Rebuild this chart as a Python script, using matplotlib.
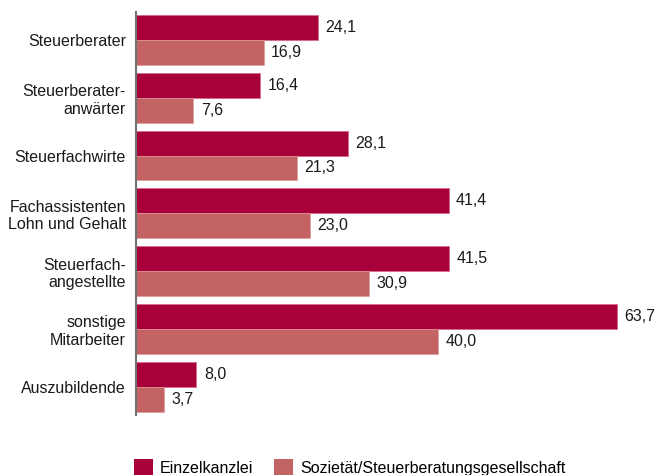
import matplotlib
matplotlib.use("Agg")
import matplotlib.pyplot as plt
from matplotlib.patches import Patch

plt.rcParams['font.family'] = ['Liberation Sans', 'DejaVu Sans']

categories = ["Steuerberater", "Steuerberater-\nanwärter", "Steuerfachwirte",
              "Fachassistenten\nLohn und Gehalt", "Steuerfach-\nangestellte",
              "sonstige\nMitarbeiter", "Auszubildende"]
einzel = [24.1, 16.4, 28.1, 41.4, 41.5, 63.7, 8.0]
sozietaet = [16.9, 7.6, 21.3, 23.0, 30.9, 40.0, 3.7]
series_names = ["Einzelkanzlei", "Sozietät/Steuerberatungsgesellschaft"]

c_dark = "#A8003A"
c_light = "#C46363"

fig = plt.figure(figsize=(6.65, 4.75), dpi=100)
ax = fig.add_axes([0.2045, 0.126, 0.78, 0.849])

h = 0.43
ys = list(range(len(categories)))
ax.barh([y - h / 2 for y in ys], einzel, height=h, color=c_dark,
        edgecolor="#D9667F", linewidth=0.5)
ax.barh([y + h / 2 for y in ys], sozietaet, height=h, color=c_light,
        edgecolor="#DE9A9A", linewidth=0.5)

def fmt(v):
    return f"{v:.1f}".replace(".", ",")

for y, a, b in zip(ys, einzel, sozietaet):
    ax.text(a + 1.0, y - h / 2, fmt(a), va="center", ha="left",
            fontsize=11.5, color="#1a1a1a")
    ax.text(b + 1.0, y + h / 2, fmt(b), va="center", ha="left",
            fontsize=11.5, color="#1a1a1a")

ax.set_xlim(0, 68.7)
ax.set_ylim(6.49, -0.484)
ax.set_yticks(ys)
ax.set_yticklabels(categories, fontsize=11.5, color="#1a1a1a",
                   multialignment="right")
ax.tick_params(axis="y", length=0, pad=7.2)
ax.set_xticks([])
for s in ["top", "right", "bottom"]:
    ax.spines[s].set_visible(False)
ax.spines["left"].set_color("#707070")
ax.spines["left"].set_linewidth(1.5)

handles = [Patch(facecolor=c_dark, edgecolor="none"),
           Patch(facecolor=c_light, edgecolor="none")]
fig.legend(handles, series_names, loc="lower left",
           bbox_to_anchor=(0.194, -0.012), ncol=2, frameon=False,
           fontsize=11.5, handlelength=1.2, handleheight=1.2,
           handletextpad=0.4, columnspacing=1.35, borderaxespad=0,
           borderpad=0.3)

fig.savefig("out.png", dpi=100)
